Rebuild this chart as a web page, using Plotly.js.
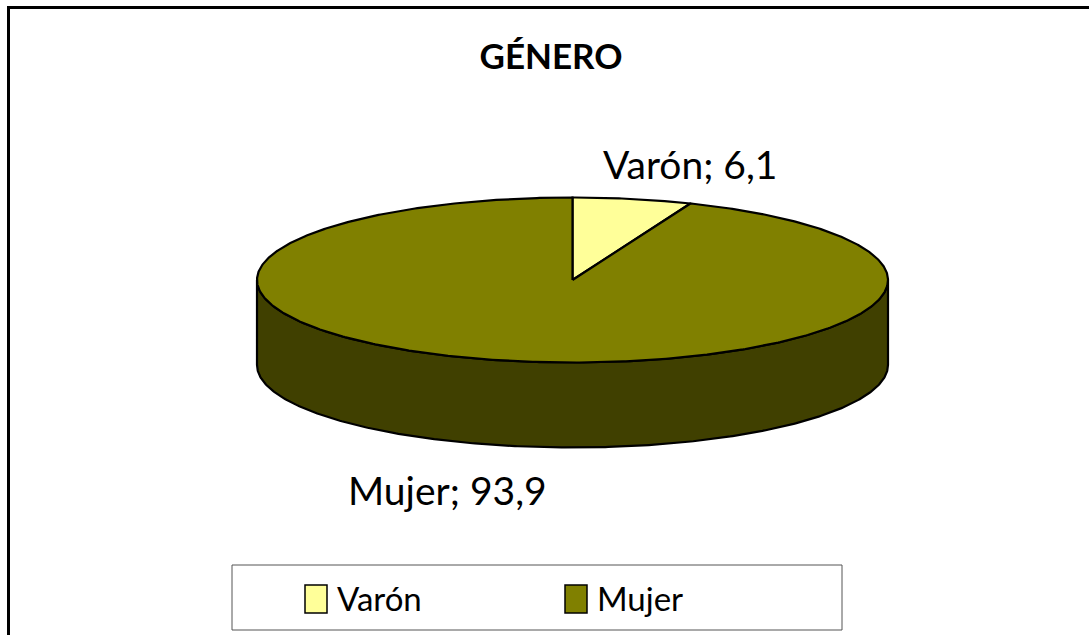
<!DOCTYPE html>
<html>
<head>
<meta charset="utf-8">
<script src="https://cdn.plot.ly/plotly-3.0.1.min.js"></script>
<style>html,body{margin:0;padding:0;background:#fff;}#chart{width:1089px;height:635px;}</style>
</head>
<body>
<div id="chart"></div>
<script>
// ---- data ----
const categories = ['Varón', 'Mujer'];
const values = [6.1, 93.9];
const colors = ['#FFFF99', '#808000'];
const chartTitle = 'GÉNERO';

// ---- geometry (layout constants, in pixel units of the axes) ----
const W = 1089, H = 635;
const cx = 572.5, cy = 280, rx = 315.5, ry = 82.5, depth = 85;
const FONT = 'Lato, "Open Sans", sans-serif';

function darken(hex, f) {
  const n = parseInt(hex.slice(1), 16);
  const r = Math.round(((n >> 16) & 255) * f), g = Math.round(((n >> 8) & 255) * f), b = Math.round((n & 255) * f);
  return 'rgb(' + r + ',' + g + ',' + b + ')';
}
function pt(t, dy) { return [cx + rx * Math.sin(t), cy - ry * Math.cos(t) + (dy || 0)]; }
function arc(a0, a1, dy) {
  const pts = [];
  const n = Math.max(2, Math.ceil(Math.abs(a1 - a0) / (Math.PI / 360)));
  for (let k = 0; k <= n; k++) pts.push(pt(a0 + (a1 - a0) * k / n, dy));
  return pts;
}

const total = values.reduce((a, b) => a + b, 0);
const angles = [];
let acc = 0;
values.forEach(v => { const a0 = acc / total * 2 * Math.PI; acc += v; angles.push([a0, acc / total * 2 * Math.PI]); });

const traces = [];
// sides (front half: angles between pi/2 and 3pi/2)
angles.forEach(([a0, a1], i) => {
  const lo = Math.max(a0, Math.PI / 2), hi = Math.min(a1, 3 * Math.PI / 2);
  if (hi <= lo) return;
  const top = arc(lo, hi, 0), bot = arc(hi, lo, depth);
  const p = top.concat(bot); p.push(top[0]);
  traces.push({
    type: 'scatter', mode: 'lines', x: p.map(q => q[0]), y: p.map(q => q[1]),
    fill: 'toself', fillcolor: darken(colors[i], 0.5),
    line: { color: '#000', width: 2.2 }, hoverinfo: 'skip', showlegend: false
  });
});
// top faces
angles.forEach(([a0, a1], i) => {
  const p = [[cx, cy]].concat(arc(a0, a1, 0)); p.push([cx, cy]);
  traces.push({
    type: 'scatter', mode: 'lines', x: p.map(q => q[0]), y: p.map(q => q[1]),
    fill: 'toself', fillcolor: colors[i],
    line: { color: '#000', width: 2.2 }, hoverinfo: 'skip', showlegend: false, name: categories[i]
  });
});

function fmt(v) { return String(v).replace('.', ','); }
const labelPos = [[690, 164], [447, 490]];
const annotations = categories.map((c, i) => ({
  xref: 'x', yref: 'y', x: labelPos[i][0], y: labelPos[i][1],
  text: c + '; ' + fmt(values[i]), showarrow: false,
  xanchor: 'center', yanchor: 'middle', font: { family: FONT, size: 39, color: '#000' }
}));

// legend (manual)
const legBox = { x0: 232, x1: 842, y0: 565, y1: 630 };
const legItemX = [305, 565];
const shapes = [
  { type: 'path', xref: 'x', yref: 'y', path: 'M 8.5 ' + H + ' L 8.5 7.5 L ' + W + ' 7.5', line: { color: '#000', width: 3 } },
  { type: 'rect', xref: 'x', yref: 'y', x0: legBox.x0, x1: legBox.x1, y0: legBox.y0, y1: legBox.y1, line: { color: '#555', width: 1 }, fillcolor: 'rgba(0,0,0,0)' }
];
categories.forEach((c, i) => {
  shapes.push({ type: 'rect', xref: 'x', yref: 'y', x0: legItemX[i], x1: legItemX[i] + 22, y0: 585, y1: 613,
    line: { color: '#000', width: 1.5 }, fillcolor: colors[i] });
  annotations.push({ xref: 'x', yref: 'y', x: legItemX[i] + 30, y: 598, text: c, showarrow: false,
    xanchor: 'left', yanchor: 'middle', font: { family: FONT, size: 33, color: '#000' } });
});

const layout = {
  width: W, height: H, margin: { l: 0, r: 0, t: 0, b: 0 },
  paper_bgcolor: '#fff', plot_bgcolor: '#fff', showlegend: false,
  title: { text: '<b>' + chartTitle + '</b>', font: { family: FONT, size: 35, color: '#000' },
    x: 551 / W, xanchor: 'center', y: 1 - 57 / H, yanchor: 'middle', xref: 'container', yref: 'container' },
  xaxis: { range: [0, W], visible: false, fixedrange: true },
  yaxis: { range: [H, 0], visible: false, fixedrange: true },
  shapes: shapes, annotations: annotations
};
Plotly.newPlot('chart', traces, layout, { staticPlot: true, displayModeBar: false });
</script>
</body>
</html>
